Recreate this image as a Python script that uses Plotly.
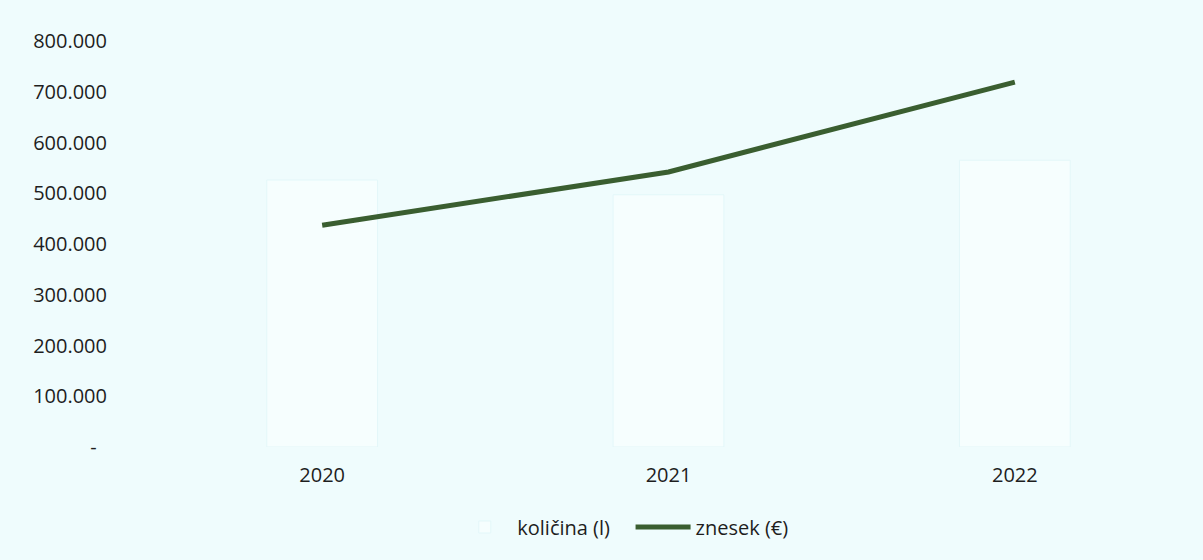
import plotly.graph_objects as go

years = ["2020", "2021", "2022"]
kolicina = [526000, 497000, 565000]
znesek = [437000, 542000, 719000]
y_ticks = [0, 100000, 200000, 300000, 400000, 500000, 600000, 700000, 800000]
y_ticktext = ["-\u00a0\u00a0", "100.000", "200.000", "300.000", "400.000",
              "500.000", "600.000", "700.000", "800.000"]

fig = go.Figure()
fig.add_trace(go.Bar(
    x=years, y=kolicina, name="količina (l)\u00a0\u00a0\u00a0",
    marker=dict(color="#f6fefe", line=dict(color="#e3f7f9", width=1)),
))
fig.add_trace(go.Scatter(
    x=years, y=znesek, name="znesek (€)", mode="lines",
    line=dict(color="#3a5e30", width=5),
))

fig.update_layout(
    width=1203, height=560,
    margin=dict(l=149, r=15, t=41, b=113),
    paper_bgcolor="#effcfd", plot_bgcolor="#effcfd",
    font=dict(family="Open Sans", size=20, color="#1e1e1e"),
    bargap=0.68,
    showlegend=True,
    legend=dict(orientation="h", x=0.456, xanchor="center", y=-0.197, yanchor="middle",
                font=dict(size=20), bgcolor="rgba(0,0,0,0)", itemwidth=55),
    xaxis=dict(showgrid=False, showline=False, zeroline=False, ticks="",
               ticklabelstandoff=14),
    yaxis=dict(range=[0, 800000], tickvals=y_ticks, ticktext=y_ticktext,
               showgrid=False, zeroline=False, showline=False, ticks="",
               ticklabelstandoff=41),
)

fig.write_html("out.html", post_script="document.body.style.margin='0px';",
               config={"displayModeBar": False})
